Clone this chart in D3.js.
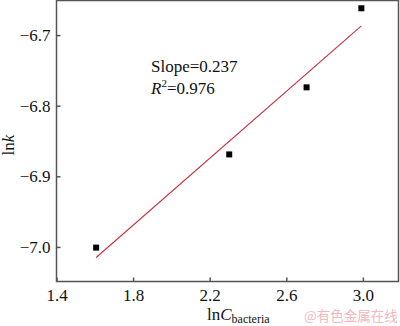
<!DOCTYPE html>
<html><head><meta charset="utf-8">
<script src="https://cdn.jsdelivr.net/npm/d3@7"></script>
<style>html,body{margin:0;padding:0;background:#fff;}svg{display:block;}</style>
</head><body>
<script>
const xValues = [1.607, 2.302, 2.706, 2.992];
const yValues = [-7.001, -6.869, -6.774, -6.662];
const fitX = [1.607, 2.992];
const fitY = [-7.015, -6.687];
const xTicks = [1.4, 1.8, 2.2, 2.6, 3.0];
const yTicks = [-7.0, -6.9, -6.8, -6.7];
const slopeText = "Slope=0.237";
const r2Value = "=0.976";

const W = 400, H = 326;
const svg = d3.select("body").append("svg").attr("width", W).attr("height", H);
const font = "'Liberation Serif','Times New Roman',serif";

const x = d3.scaleLinear().domain([1.4, 3.186]).range([56.5, 398.5]);
const y = d3.scaleLinear().domain([-7.049, -6.651]).range([281.5, 0.5]);

// frame
svg.append("rect").attr("x", x(1.4)).attr("y", y(-6.651))
  .attr("width", x(3.186) - x(1.4)).attr("height", y(-7.049) - y(-6.651))
  .attr("fill", "none").attr("stroke", "#555").attr("stroke-width", 1.5);

// x axis
const xAxis = d3.axisBottom(x).tickValues(xTicks).tickSizeInner(-4).tickSizeOuter(0)
  .tickFormat(d3.format(".1f")).tickPadding(7.5);
const gx = svg.append("g").attr("transform", `translate(0,${y(-7.049)})`).call(xAxis);
gx.select(".domain").remove();
gx.selectAll(".tick line").attr("stroke", "#555").attr("stroke-width", 1.5);
gx.selectAll(".tick text").attr("font-family", font).attr("font-size", 17).attr("fill", "#111");

// y axis
const yAxis = d3.axisLeft(y).tickValues(yTicks).tickSizeInner(-4).tickSizeOuter(0)
  .tickFormat(d => d3.format(".1f")(d).replace("-", "\u2212")).tickPadding(6);
const gy = svg.append("g").attr("transform", `translate(${x(1.4)},0)`).call(yAxis);
gy.select(".domain").remove();
gy.selectAll(".tick line").attr("stroke", "#555").attr("stroke-width", 1.5);
gy.selectAll(".tick text").attr("font-family", font).attr("font-size", 17).attr("fill", "#111");

// fit line
svg.append("path")
  .datum(fitX.map((d, i) => [d, fitY[i]]))
  .attr("d", d3.line().x(d => x(d[0])).y(d => y(d[1])))
  .attr("stroke", "#c8303f").attr("stroke-width", 1.1).attr("fill", "none");

// points
const s = 6;
svg.selectAll("rect.pt").data(xValues).enter().append("rect").attr("class", "pt")
  .attr("x", (d) => x(d) - s / 2).attr("y", (d, i) => y(yValues[i]) - s / 2)
  .attr("width", s).attr("height", s).attr("fill", "#000");

// annotation
svg.append("text").attr("x", 151).attr("y", 72).attr("font-family", font)
  .attr("font-size", 17).attr("fill", "#111").text(slopeText);
const r2 = svg.append("text").attr("x", 151).attr("y", 93.5).attr("font-family", font)
  .attr("font-size", 17).attr("fill", "#111");
r2.append("tspan").attr("font-style", "italic").text("R");
r2.append("tspan").attr("font-size", 11).attr("dy", -7).text("2");
r2.append("tspan").attr("dy", 7).text(r2Value);

// axis titles
const yt = svg.append("text").attr("transform", "translate(14,145) rotate(-90)")
  .attr("text-anchor", "middle").attr("font-family", font).attr("font-size", 17).attr("fill", "#111");
yt.append("tspan").text("ln");
yt.append("tspan").attr("font-style", "italic").text("k");

const xt = svg.append("text").attr("x", 207).attr("y", 319.5)
  .attr("font-family", font).attr("font-size", 17).attr("fill", "#111");
xt.append("tspan").text("ln");
xt.append("tspan").attr("font-style", "italic").text("C");
xt.append("tspan").attr("font-size", 12).attr("dy", 3).text("bacteria");

// watermark
svg.append("text").attr("x", 304).attr("y", 321).attr("font-family", "'Noto Sans CJK SC','Noto Sans',sans-serif")
  .attr("font-size", 13.5).attr("fill", "#f2b8c0").text("@有色金属在线");
</script>
</body></html>
